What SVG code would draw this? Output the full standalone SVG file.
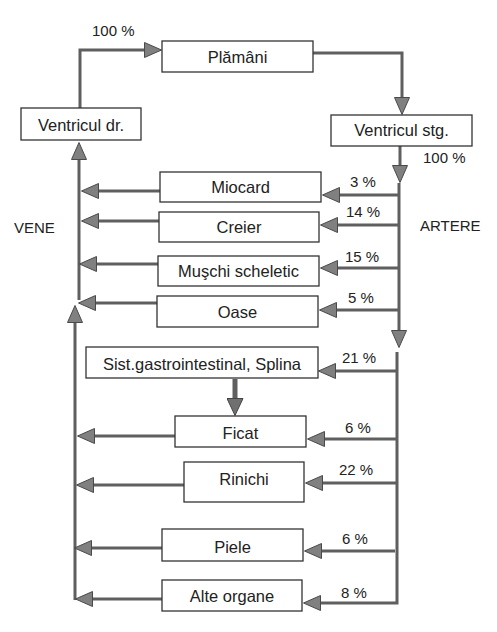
<svg xmlns="http://www.w3.org/2000/svg" width="497" height="632" viewBox="0 0 497 632">
<style>
.box rect{fill:#fff;stroke:#333;stroke-width:1.3}
.box text{font-family:"Liberation Sans",Arial,sans-serif;font-size:16.5px;fill:#222;text-anchor:middle}
.lbl{font-family:"Liberation Sans",Arial,sans-serif;font-size:15px;fill:#222}
#connectors path{fill:none;stroke:#5f5f5f;stroke-width:3;marker-end:url(#ah)}
#connectors path.plain{marker-end:none}
#connectors path.thick{stroke-width:5;marker-end:url(#ah2)}
</style>
<defs>
<marker id="ah" viewBox="0 0 18 16" refX="0" refY="8" markerWidth="18" markerHeight="16" markerUnits="userSpaceOnUse" orient="auto">
<path d="M0.5,0.5 L17.5,8 L0.5,15.5 z" fill="#808080" stroke="#4a4a4a" stroke-width="1"/>
</marker>
<marker id="ah2" viewBox="0 0 18 17" refX="0" refY="8.5" markerWidth="18" markerHeight="17" markerUnits="userSpaceOnUse" orient="auto">
<path d="M0.5,0.5 L17.5,8.5 L0.5,16.5 z" fill="#707070" stroke="#444" stroke-width="1"/>
</marker>
</defs>
<rect width="497" height="632" fill="#fff"/>
<g id="connectors">
<path d="M80,108 V50 H144"/>
<path d="M313,53 H402 V97"/>
<path d="M400,146 V165"/>
<path d="M399,183 V330"/>
<path d="M397,352 V603 H321"/>
<path d="M399,195 H340"/>
<path d="M399,225 H338"/>
<path d="M399,268 H338"/>
<path d="M399,310 H337"/>
<path d="M397,371 H336"/>
<path d="M397,439 H325"/>
<path d="M396,483 H323"/>
<path d="M395,551 H322"/>
<path d="M79,300 V160"/>
<path d="M75,600 V323"/>
<path d="M162,599 H93"/>
<path d="M160,191 H99"/>
<path d="M159,221 H99"/>
<path d="M158,264 H97"/>
<path d="M157,303 H96"/>
<path d="M175,436 H95"/>
<path d="M184,485 H94"/>
<path d="M162,548 H92"/>
<path class="thick" d="M235,379 V398"/>
</g>
<g id="plamani" class="box"><rect x="162" y="41" width="151" height="31"/><text x="237.5" y="63">Plămâni</text></g>
<g id="ventricul-dr" class="box"><rect x="21" y="108" width="120" height="32"/><text x="81" y="131">Ventricul dr.</text></g>
<g id="ventricul-stg" class="box"><rect x="331" y="115" width="141" height="31"/><text x="401.5" y="136">Ventricul stg.</text></g>
<g id="miocard" class="box"><rect x="160" y="172" width="161" height="30"/><text x="240.5" y="193">Miocard</text></g>
<g id="creier" class="box"><rect x="159" y="212" width="160" height="30"/><text x="239" y="233">Creier</text></g>
<g id="muschi" class="box"><rect x="158" y="256" width="161" height="30"/><text x="238.5" y="277">Muşchi scheletic</text></g>
<g id="oase" class="box"><rect x="157" y="296" width="161" height="31"/><text x="237.5" y="318">Oase</text></g>
<g id="sist" class="box"><rect x="86" y="347" width="232" height="31"/><text x="202" y="370">Sist.gastrointestinal, Splina</text></g>
<g id="ficat" class="box"><rect x="175" y="416" width="131" height="31"/><text x="240.5" y="439">Ficat</text></g>
<g id="rinichi" class="box"><rect x="184" y="462" width="120" height="40"/><text x="244" y="485">Rinichi</text></g>
<g id="piele" class="box"><rect x="162" y="529" width="141" height="32"/><text x="232.5" y="553">Piele</text></g>
<g id="alte" class="box"><rect x="162" y="580" width="140" height="31"/><text x="232" y="602">Alte organe</text></g>
<g id="labels">
<text class="lbl" x="92" y="36">100 %</text>
<text class="lbl" x="423" y="163">100 %</text>
<text class="lbl" x="350" y="187">3 %</text>
<text class="lbl" x="346" y="217">14 %</text>
<text class="lbl" x="345" y="262">15 %</text>
<text class="lbl" x="348" y="303">5 %</text>
<text class="lbl" x="342" y="363">21 %</text>
<text class="lbl" x="345" y="433">6 %</text>
<text class="lbl" x="339" y="475">22 %</text>
<text class="lbl" x="342" y="544">6 %</text>
<text class="lbl" x="341" y="598">8 %</text>
<text class="lbl" x="420" y="231">ARTERE</text>
<text class="lbl" x="14" y="233">VENE</text>
</g>
</svg>
